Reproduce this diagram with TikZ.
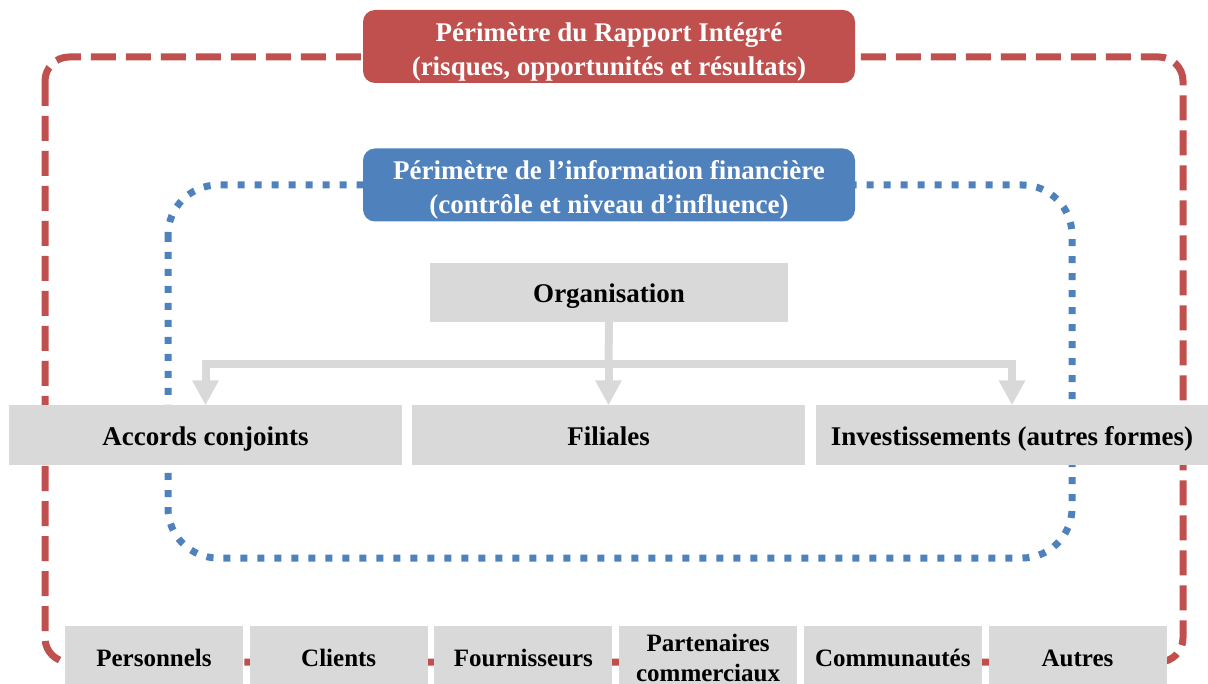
\documentclass[tikz,border=0pt]{standalone}
\usepackage{fontspec}
\setmainfont{Liberation Serif}
\usetikzlibrary{arrows.meta}
\definecolor{reportred}{HTML}{C0504D}
\definecolor{financeblue}{HTML}{4F81BD}
\definecolor{boxgrey}{HTML}{D9D9D9}

% taller first line, lowers the title text a bit
\newcommand{\highline}{\rule{0pt}{29pt}}

\tikzset{
	titlebox/.style={rounded corners=12pt, text=white, inner sep=0pt, minimum width=492pt, minimum height=73pt, align=center, font=\bfseries\fontsize{27}{34}\selectfont},
	greybox/.style={fill=boxgrey, inner sep=0pt, minimum height=60pt, text height=23pt, text depth=3pt, font=\bfseries\fontsize{27}{32}\selectfont},
	stakebox/.style={fill=boxgrey, inner sep=0pt, minimum width=178pt, minimum height=64pt, align=center, font=\bfseries\fontsize{25}{30}\selectfont},
	flowline/.style={boxgrey, line width=8pt},
	flowarrow/.style={flowline, -{Triangle[width=25pt,length=25pt]}}
}

\begin{document}
\begin{tikzpicture}[x=1pt, y=-1pt]
		\useasboundingbox (0,0) rectangle (1208,684);
		
		% integrated report perimeter
		\draw[reportred, line width=7pt, dash pattern=on 25pt off 10pt, rounded corners=24pt] (45,57) rectangle (1183,662);
		\node[titlebox, fill=reportred] (reporttitle) at (609,46.5) {\highline Périmètre du Rapport Intégré\\(risques, opportunités et résultats)};
		
		% financial information perimeter
		\draw[financeblue, line width=7pt, dash pattern=on 7pt off 10pt, rounded corners=50pt] (168,185) rectangle (1072,558);
		\node[titlebox, fill=financeblue] (financetitle) at (609,185) {\highline Périmètre de l’information financière\\(contrôle et niveau d’influence)};
		
		% organisation and entities
		\node[greybox, minimum width=358pt, minimum height=59pt] (org) at (609,292.5) {Organisation};
		\node[greybox, minimum width=393pt] (accords) at (205.5,435.5) {Accords conjoints};
		\node[greybox, minimum width=393pt] (filiales) at (608.5,435.5) {Filiales};
		\node[greybox, minimum width=393pt] (invest) at (1012,435.5) {Investissements (autres formes)};
		
		% arrows
		\coordinate (split) at (608.5,364);
		\draw[flowline] (org.south) -- (split);
		\draw[flowarrow] (split) -| (accords.north);
		\draw[flowarrow] (split) -- (filiales.north);
		\draw[flowarrow] (split) -| (invest.north);
		
		% stakeholders
		\foreach \name/\label [count=\i] in {pers/Personnels, clients/Clients, fourn/Fournisseurs, part/{Partenaires\\commerciaux}, comm/Communautés, autres/Autres}
			\node[stakebox] (\name) at ({154+184.7*(\i-1)},658) {\label};
		
\end{tikzpicture}
\end{document}
